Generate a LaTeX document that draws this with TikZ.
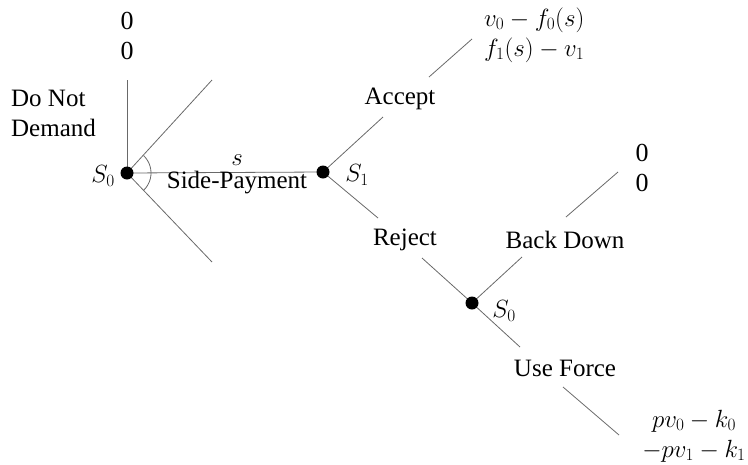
\documentclass[tikz,border=0pt]{standalone}
\usepackage{fontspec}
\setmainfont{Liberation Serif}
\begin{document}
\begin{tikzpicture}[x=1pt,y=-1pt,
  branch/.style={draw={rgb,255:red,105;green,105;blue,105},line width=0.8pt},
  dot/.style={circle,fill=black,inner sep=0pt,minimum size=13pt},
  lbl/.style={inner sep=0pt,font=\fontsize{25}{30}\selectfont,align=center},
  pay/.style={inner sep=0pt,font=\fontsize{26}{30}\selectfont}]
\useasboundingbox (0,0) rectangle (748,464);
% decision points
\coordinate (r) at (127,173);
\coordinate (s1) at (323,172);
\coordinate (s0b) at (472,303);
% node labels
\node[lbl] (lr) at (103,176) {$S_0$};
\node[lbl] (ls1) at (357,175) {$S_1$};
\node[lbl] (ls0b) at (504,311) {$S_0$};
% root branches
\coordinate (top) at (127,80);
\coordinate (ud) at (212,80);
\coordinate (ld) at (212,262);
\draw[branch] (r) -- (top);
\draw[branch] (r) -- (ud);
\draw[branch] (r) -- (ld);
\draw[branch] (r) -- (s1);
\draw[branch] (143.7,155.7) arc[start angle=-46,end angle=46,radius=24];
\node[pay,align=center] (p0) at (127,36) {0\\0};
\node[lbl,align=left,anchor=west] (dnd) at (11,113) {Do Not\\Demand};
\node[lbl] (ls) at (237,160) {$s$};
\node[lbl] (sp) at (237,183) {Side-Payment};
% Accept
\coordinate (a1) at (383,117);
\coordinate (a2) at (429,77);
\coordinate (a3) at (472,39);
\draw[branch] (s1) -- (a1);
\node[lbl] (acc) at (400,99) {Accept};
\draw[branch] (a2) -- (a3);
\node[pay,align=left,anchor=west] (pacc) at (484,35) {$v_0 - f_0(s)$\\$f_1(s) - v_1$};
% Reject
\coordinate (r1) at (378,218);
\coordinate (r2) at (422,258);
\draw[branch] (s1) -- (r1);
\node[lbl] (rej) at (405,240) {Reject};
\draw[branch] (r2) -- (s0b);
% Back Down
\coordinate (b1) at (522,257);
\coordinate (b2) at (566,217);
\coordinate (b3) at (618,172);
\draw[branch] (s0b) -- (b1);
\node[lbl] (bd) at (565,240) {Back Down};
\draw[branch] (b2) -- (b3);
\node[pay,align=center] (pbd) at (642,168) {0\\0};
% Use Force
\coordinate (u1) at (520,347);
\coordinate (u2) at (563,387);
\coordinate (u3) at (619,435);
\draw[branch] (s0b) -- (u1);
\node[lbl] (uf) at (565,368) {Use Force};
\draw[branch] (u2) -- (u3);
\node[pay,align=center] (puf) at (694,436) {$pv_0 - k_0$\\$-pv_1 - k_1$};
% dots on top
\node[dot] (rdot) at (r) {};
\node[dot] (s1dot) at (s1) {};
\node[dot] (s0bdot) at (s0b) {};
\end{tikzpicture}
\end{document}
